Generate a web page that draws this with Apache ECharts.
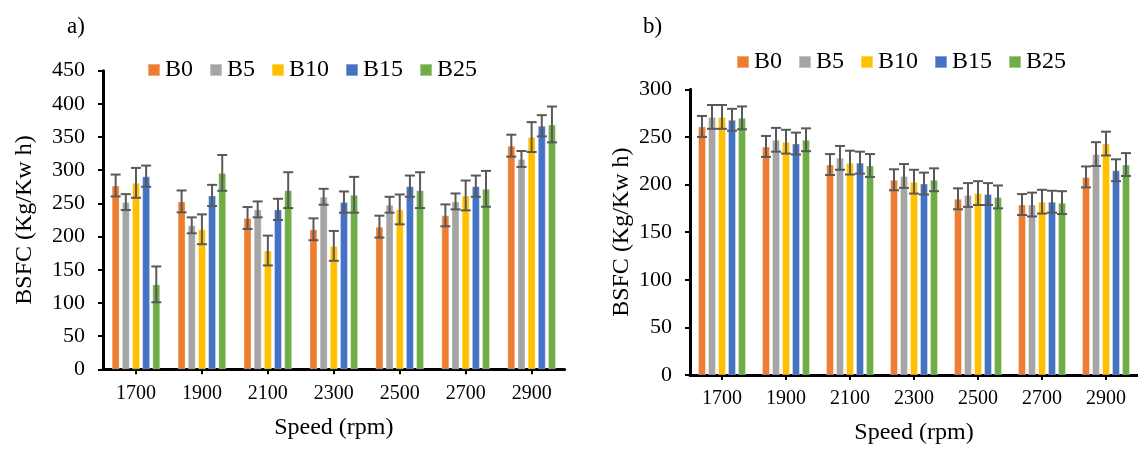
<!DOCTYPE html>
<html>
<head>
<meta charset="utf-8">
<script src="https://cdn.jsdelivr.net/npm/echarts@6/dist/echarts.min.js"></script>
<style>
  html, body { margin: 0; padding: 0; background: #fff; }
  #chart { width: 1138px; height: 450px; }
</style>
</head>
<body>
<div id="chart"></div>
<script>
// ---------- DATA ----------
const categories = ['1700', '1900', '2100', '2300', '2500', '2700', '2900'];
const seriesNames = ['B0', 'B5', 'B10', 'B15', 'B25'];

// Panel a) BSFC values
const aB0  = [277, 253, 228, 211, 215, 232, 337];
const aB5  = [252, 217, 241, 260, 248, 253, 317];
const aB10 = [281, 211, 179, 186, 241, 262, 350];
const aB15 = [291, 262, 241, 252, 276, 276, 367];
const aB25 = [128, 296, 270, 263, 270, 272, 369];
// Panel a) error bar half-lengths
const aErrB0  = [16.5, 16.5, 16.5, 16.5, 16.5, 16.5, 16.5];
const aErrB5  = [12, 12, 12, 12, 12, 12, 12];
const aErrB10 = [22.5, 22.5, 22.5, 22.5, 22.5, 22.5, 22.5];
const aErrB15 = [16, 16, 16, 16, 16, 16, 16];
const aErrB25 = [27, 27, 27, 27, 27, 27, 27];

// Panel b) BSFC values
const bB0  = [261, 240, 221, 205, 185, 179, 208];
const bB5  = [271, 247, 228, 209, 189, 179, 232];
const bB10 = [271, 245, 223, 203, 191, 182, 243];
const bB15 = [268, 243, 223, 201, 190, 182, 215];
const bB25 = [270, 247, 220, 205, 187, 181, 221];
// Panel b) error bar half-lengths
const bErrB0  = [11, 11, 11, 11, 11, 11, 11];
const bErrB5  = [12.5, 12.5, 12.5, 12.5, 12.5, 12.5, 12.5];
const bErrB10 = [12.5, 12.5, 12.5, 12.5, 12.5, 12.5, 12.5];
const bErrB15 = [11.5, 11.5, 11.5, 11.5, 11.5, 11.5, 11.5];
const bErrB25 = [12, 12, 12, 12, 12, 12, 12];

const aTicks = { min: 0, max: 450, interval: 50 };
const bTicks = { min: 0, max: 300, interval: 50 };

// ---------- STYLE ----------
const FONT = '"Liberation Serif", "Times New Roman", serif';
const colors = ['#ED7D31', '#A5A5A5', '#FFC000', '#4472C4', '#70AD47'];
const BAR_W = 8;
const GAP_A = 0.27, GAP_B = 0.25;

const aVals = [aB0, aB5, aB10, aB15, aB25];
const aErrs = [aErrB0, aErrB5, aErrB10, aErrB15, aErrB25];
const bVals = [bB0, bB5, bB10, bB15, bB25];
const bErrs = [bErrB0, bErrB5, bErrB10, bErrB15, bErrB25];

function errRender(offset) {
  return function (params, api) {
    const c = api.value(0);
    const lo = api.coord([c, api.value(1)]);
    const hi = api.coord([c, api.value(2)]);
    const x = lo[0] + offset;
    const cap = 5;
    const st = { stroke: '#595959', lineWidth: 2 };
    return {
      type: 'group',
      children: [
        { type: 'line', shape: { x1: x, y1: hi[1], x2: x, y2: lo[1] }, style: st },
        { type: 'line', shape: { x1: x - cap, y1: hi[1], x2: x + cap, y2: hi[1] }, style: st },
        { type: 'line', shape: { x1: x - cap, y1: lo[1], x2: x + cap, y2: lo[1] }, style: st }
      ]
    };
  };
}

const series = [];
function addPanel(vals, errs, idx, gap) {
  const pitch = BAR_W * (1 + gap);
  vals.forEach((arr, i) => {
    series.push({
      name: seriesNames[i],
      type: 'bar',
      xAxisIndex: idx, yAxisIndex: idx,
      data: arr,
      barWidth: BAR_W,
      barGap: (gap * 100) + '%',
      itemStyle: { color: colors[i], borderColor: 'rgba(255,255,255,0.35)', borderWidth: 1 },
      emphasis: { disabled: true },
      z: 2
    });
  });
  vals.forEach((arr, i) => {
    series.push({
      name: 'err' + idx + '_' + i,
      type: 'custom',
      xAxisIndex: idx, yAxisIndex: idx,
      renderItem: errRender((i - 2) * pitch),
      data: arr.map((v, k) => [k, v - errs[i][k], v + errs[i][k]]),
      encode: { x: 0, y: [1, 2] },
      z: 5,
      silent: true
    });
  });
}
addPanel(aVals, aErrs, 0, GAP_A);
addPanel(bVals, bErrs, 1, GAP_B);

function xAxis(gridIndex) {
  return {
    type: 'category', gridIndex, data: categories,
    name: 'Speed (rpm)', nameLocation: 'middle', nameGap: 46,
    nameTextStyle: { fontFamily: FONT, fontSize: 24, color: '#000' },
    axisLine: { lineStyle: { color: '#000', width: 3 } },
    axisTick: { show: true, alignWithLabel: true, length: 5, lineStyle: { color: '#000', width: 2 } },
    axisLabel: { fontFamily: FONT, fontSize: 20, color: '#000', margin: 14 },
    splitLine: { show: false }
  };
}
function yAxis(gridIndex, t, gap) {
  return {
    type: 'value', gridIndex, min: t.min, max: t.max, interval: t.interval,
    name: 'BSFC (Kg/Kw h)', nameLocation: 'middle', nameGap: gap, nameRotate: 90,
    nameTextStyle: { fontFamily: FONT, fontSize: 24, color: '#000' },
    axisLine: { show: true, lineStyle: { color: '#000', width: 3 } },
    axisTick: { show: true, length: 5, lineStyle: { color: '#000', width: 2 } },
    axisLabel: { fontFamily: FONT, fontSize: 22, color: '#000', margin: 18 },
    splitLine: { show: false }
  };
}

const legendCommon = {
  data: seriesNames, icon: 'rect', itemWidth: 12, itemHeight: 12, itemGap: 16,
  padding: 0,
  textStyle: { fontFamily: FONT, fontSize: 24, color: '#000', padding: [0, 0, 0, 0] },
  selectedMode: false, orient: 'horizontal'
};

const chart = echarts.init(document.getElementById('chart'), null, { renderer: 'canvas' });
chart.setOption({
  backgroundColor: '#fff',
  animation: false,
  grid: [
    { left: 103, top: 70.7, width: 461.6, height: 298.6 },
    { left: 690, top: 89.3, width: 455, height: 288 }
  ],
  xAxis: [xAxis(0), xAxis(1)],
  yAxis: [yAxis(0, aTicks, 66), yAxis(1, bTicks, 56)],
  legend: [
    Object.assign({}, legendCommon, { left: 147, top: 58 }),
    Object.assign({}, legendCommon, { left: 736, top: 50 })
  ],
  graphic: [
    { type: 'text', left: 67, top: 15, style: { text: 'a)', fontFamily: FONT, fontSize: 23, fill: '#000' } },
    { type: 'text', left: 643, top: 15, style: { text: 'b)', fontFamily: FONT, fontSize: 23, fill: '#000' } }
  ],
  series
});
</script>
</body>
</html>
